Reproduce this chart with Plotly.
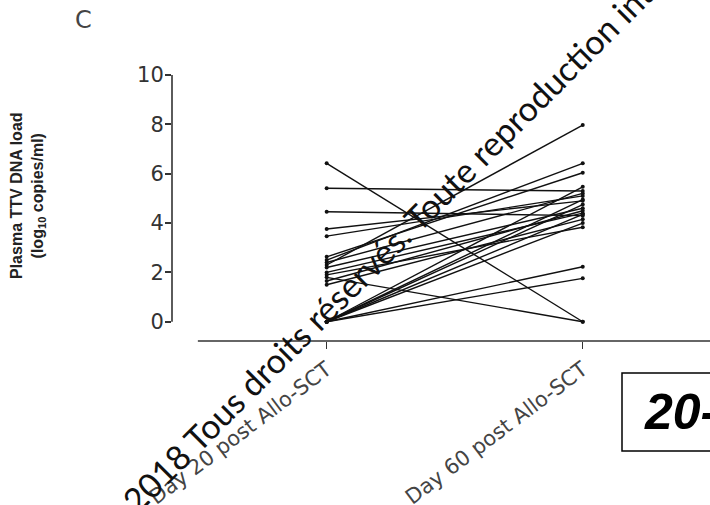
import plotly.graph_objects as go

# Paired plasma TTV DNA loads (log10 copies/ml), one pair per patient
groups = ["Day 20 post Allo-SCT", "Day 60 post Allo-SCT"]
day20 = [6.42, 5.41, 4.46, 3.76, 3.47, 2.63, 2.50, 2.30, 2.20, 2.40, 2.00,
         1.90, 1.80, 1.65, 1.50, 0.0, 0.0, 0.0, 0.0, 0.0, 0.0, 0.0]
day60 = [0.0, 5.30, 4.30, 4.90, 5.10, 6.04, 6.42, 7.97, 4.60, 5.20, 4.40,
         3.83, 0.0, 4.50, 4.15, 5.47, 4.95, 4.75, 4.35, 4.00, 2.23, 1.76]
yticks = [0, 2, 4, 6, 8, 10]

xs, ys = [], []
for a, b in zip(day20, day60):
    xs += [0, 1, None]
    ys += [a, b, None]

fig = go.Figure()
fig.add_trace(go.Scatter(
    x=xs, y=ys, mode="lines+markers",
    line=dict(color="#111111", width=1.4),
    marker=dict(color="#111111", size=4),
    connectgaps=False, showlegend=False, hoverinfo="skip",
))

axis_col = "#333333"
L, T, W, H = 172, 75, 538, 266


def px(x):
    return (x - L) / W


def py(y):
    return (T + H - y) / H


fig.update_layout(
    width=710, height=505,
    margin=dict(l=L, r=710 - L - W, t=T, b=505 - T - H),
    paper_bgcolor="white", plot_bgcolor="white",
    xaxis=dict(
        range=[-0.604, 1.497], tickvals=[0, 1], ticktext=groups,
        tickangle=-37, ticks="outside", ticklen=7, tickwidth=1.2,
        tickcolor=axis_col, showline=False, showgrid=False, zeroline=False,
        automargin=False,
        tickfont=dict(family="DejaVu Sans", size=21, color="#444444"),
    ),
    yaxis=dict(
        range=[-0.78, 10], tickvals=yticks, ticks="outside", ticklen=6,
        tickwidth=1.5, tickcolor=axis_col, showline=False, showgrid=False,
        zeroline=False, ticklabelstandoff=-3, automargin=False,
        tickfont=dict(family="DejaVu Sans", size=21, color="#333333"),
    ),
    shapes=[
        # y axis spine spanning 0-10 only
        dict(type="line", xref="paper", yref="y", x0=0, x1=0, y0=0, y1=10,
             line=dict(color=axis_col, width=1.6)),
        # offset x axis spine
        dict(type="line", xref="x", yref="paper", x0=-0.503, x1=1.497,
             y0=0, y1=0, line=dict(color=axis_col, width=1.6)),
        # framed label box at lower right
        dict(type="rect", xref="paper", yref="paper",
             x0=px(622), x1=px(740), y0=py(451), y1=py(373),
             line=dict(color="black", width=1.5)),
    ],
    annotations=[
        dict(text="C", xref="paper", yref="paper", x=px(83), y=py(20),
             xanchor="center", yanchor="middle", showarrow=False,
             font=dict(family="DejaVu Sans", size=24, color="#444444")),
        dict(text="<b>Plasma TTV DNA load<br>(log<sub>10</sub> copies/ml)</b>",
             xref="paper", yref="paper", x=px(28), y=py(196),
             xanchor="center", yanchor="middle", textangle=-90,
             showarrow=False,
             font=dict(family="Liberation Sans", size=16, color="#222222")),
        dict(text="<b><i>20-</i></b>", xref="paper", yref="paper",
             x=px(642), y=py(412), xanchor="left", yanchor="middle",
             showarrow=False,
             font=dict(family="Liberation Sans", size=50, color="black")),
        dict(text="2018 Tous droits réservés. Toute reproduction interdite",
             xref="paper", yref="paper", x=px(417), y=py(216),
             xanchor="center", yanchor="middle", textangle=-45,
             showarrow=False,
             font=dict(family="Lato", size=34, color="#111111")),
    ],
)

fig.write_html("out.html")
